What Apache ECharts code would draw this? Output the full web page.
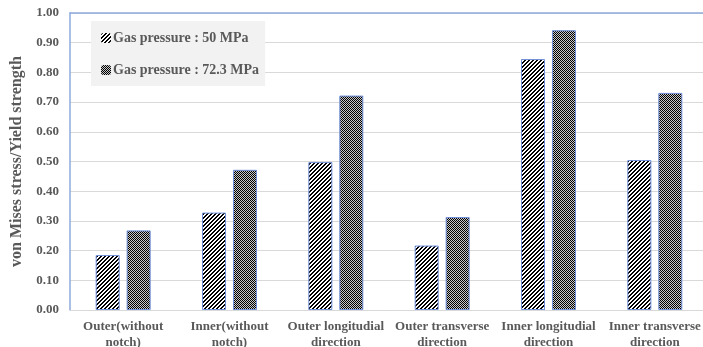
<!DOCTYPE html>
<html>
<head>
<meta charset="utf-8">
<script src="https://cdn.jsdelivr.net/npm/echarts@6/dist/echarts.min.js"></script>
<style>html,body{margin:0;padding:0;background:#fff;}#c{width:703px;height:347px;}</style>
</head>
<body>
<div id="c"></div>
<script>
var categories = ['Outer(without\nnotch)', 'Inner(without\nnotch)', 'Outer longitudial\ndirection', 'Outer transverse\ndirection', 'Inner longitudial\ndirection', 'Inner transverse\ndirection'];
var seriesNames = ['Gas pressure : 50 MPa', 'Gas pressure : 72.3 MPa'];
var values50 = [0.185, 0.328, 0.498, 0.217, 0.845, 0.505];
var values723 = [0.268, 0.472, 0.722, 0.313, 0.942, 0.731];

function makeHatch() {
  var c = document.createElement('canvas');
  c.width = 4; c.height = 4;
  var ctx = c.getContext('2d');
  ctx.fillStyle = '#ffffff'; ctx.fillRect(0, 0, 4, 4);
  ctx.fillStyle = '#000000';
  for (var x = 0; x < 4; x++) for (var y = 0; y < 4; y++) {
    if ((x + y) % 4 < 2) ctx.fillRect(x, y, 1, 1);
  }
  return c;
}
function makeChecker() {
  var c = document.createElement('canvas');
  c.width = 2; c.height = 2;
  var ctx = c.getContext('2d');
  ctx.fillStyle = '#c8c8c8'; ctx.fillRect(0, 0, 2, 2);
  ctx.fillStyle = '#000000';
  ctx.fillRect(0, 0, 1, 1); ctx.fillRect(1, 1, 1, 1);
  return c;
}
var hatch = { image: makeHatch(), repeat: 'repeat' };
var checker = { image: makeChecker(), repeat: 'repeat' };

var font = '"Liberation Serif", "Times New Roman", serif';
var chart = echarts.init(document.getElementById('c'));
chart.setOption({
  animation: false,
  textStyle: { fontFamily: font },
  grid: { left: 70, top: 13, bottom: 37, right: -5, containLabel: false, outerBoundsMode: 'none' },
  legend: {
    orient: 'vertical', left: 91, top: 21,
    backgroundColor: '#f2f2f2', padding: [10, 6, 9, 10], itemGap: 18,
    itemWidth: 10, itemHeight: 10, itemStyle: { borderWidth: 0 },
    textStyle: { fontFamily: font, fontWeight: 'bold', fontSize: 14, color: '#595959', padding: [0, 0, 0, -3] },
    data: seriesNames
  },
  xAxis: [{
    type: 'category', data: categories,
    axisLine: { lineStyle: { color: '#d9d9d9' } },
    axisTick: { show: false },
    axisLabel: { fontFamily: font, fontWeight: 'bold', fontSize: 13, color: '#595959', lineHeight: 16, margin: 9, interval: 0 }
  }, {
    type: 'category', data: categories, position: 'top',
    axisLine: { lineStyle: { color: '#8faadc', width: 1.5 } },
    axisTick: { show: false }, axisLabel: { show: false }
  }],
  yAxis: {
    type: 'value', min: 0, max: 1, interval: 0.1,
    name: 'von Mises stress/Yield strength', nameLocation: 'middle', nameGap: 45,
    nameTextStyle: { fontFamily: font, fontWeight: 'bold', fontSize: 16, color: '#595959' },
    axisLine: { show: true, lineStyle: { color: '#8faadc', width: 1.5 } },
    axisTick: { show: false },
    splitLine: { lineStyle: { color: '#d9d9d9', width: 1 } },
    axisLabel: { fontFamily: font, fontWeight: 'bold', fontSize: 13, color: '#595959', margin: 11,
      formatter: function (v) { return v.toFixed(2); } }
  },
  series: [{
    name: seriesNames[0], type: 'bar', data: values50, barWidth: 24, barGap: '29%',
    itemStyle: { color: hatch, borderColor: '#6f8fd8', borderWidth: 1 }
  }, {
    name: seriesNames[1], type: 'bar', data: values723, barWidth: 24, barGap: '29%',
    itemStyle: { color: checker, borderColor: '#6f8fd8', borderWidth: 1 }
  }]
});
</script>
</body>
</html>
